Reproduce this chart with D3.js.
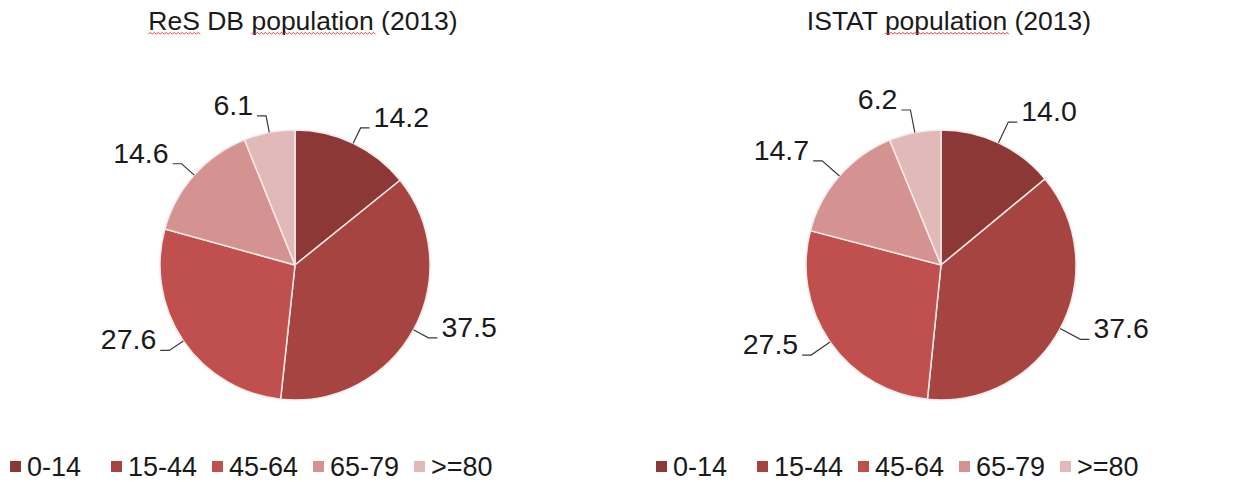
<!DOCTYPE html>
<html>
<head>
<meta charset="utf-8">
<script src="https://cdn.jsdelivr.net/npm/d3@7"></script>
<style>
  html, body { margin: 0; padding: 0; background: #fff; }
  svg { display: block; font-family: "Liberation Sans", Arial, sans-serif; }
</style>
</head>
<body>
<div id="chart"></div>
<script>
// age groups and shares (%)
const categories = ["0-14", "15-44", "45-64", "65-79", ">=80"];
const resValues = [14.2, 37.5, 27.6, 14.6, 6.1];
const istatValues = [14.0, 37.6, 27.5, 14.7, 6.2];
const titles = ["ReS DB population (2013)", "ISTAT population (2013)"];
// words that carry the red spell-check squiggle
const flagged = [["ReS", "population"], ["population"]];

const colors = ["#8b3837", "#a64442", "#c0504d", "#d49391", "#e1b9b8"];

const width = 1247, height = 482;
const radius = 135;
const centers = [[295, 265], [941, 265]];
const leaderGap = [17, 23];

const svg = d3.select("#chart")
  .append("svg")
  .attr("width", width)
  .attr("height", height);

const color = d3.scaleOrdinal().domain(categories).range(colors);
const fmt = d3.format(".1f");

const pie = d3.pie().sort(null).value(d => d.value);
const arc = d3.arc().innerRadius(0).outerRadius(radius);

function drawPie(values, idx) {
  const [cx, cy] = centers[idx];
  const data = categories.map((c, i) => ({ cat: c, value: values[i] }));
  const g = svg.append("g").attr("transform", "translate(" + cx + "," + cy + ")");

  g.selectAll("path.slice")
    .data(pie(data))
    .enter()
    .append("path")
    .attr("class", "slice")
    .attr("d", arc)
    .attr("fill", d => color(d.data.cat))
    .attr("stroke", "#f7e9e9")
    .attr("stroke-width", 1.5);

  // labels with elbow leader lines, excel style
  const gap = leaderGap[idx], stub = 9;
  const labels = g.selectAll("g.lab")
    .data(pie(data))
    .enter()
    .append("g")
    .attr("class", "lab");

  labels.each(function (d) {
    const a = (d.startAngle + d.endAngle) / 2;
    const ux = Math.sin(a), uy = -Math.cos(a);
    const side = ux >= 0 ? 1 : -1;
    const p0 = [ux * radius, uy * radius];
    const p1 = [ux * (radius + gap), uy * (radius + gap)];
    const p2 = [p1[0] + side * stub, p1[1]];
    d3.select(this).append("path")
      .attr("d", "M" + p0 + "L" + p1 + "L" + p2)
      .attr("fill", "none")
      .attr("stroke", "#3a3a3a")
      .attr("stroke-width", 1.2);
    d3.select(this).append("text")
      .attr("x", p2[0] + side * 4)
      .attr("y", p2[1] - 1)
      .attr("text-anchor", side > 0 ? "start" : "end")
      .attr("font-size", 28.5)
      .attr("fill", "#1a1a1a")
      .text(fmt(d.data.value));
  });

  // title
  const title = svg.append("text")
    .attr("x", cx + 8)
    .attr("y", 30)
    .attr("text-anchor", "middle")
    .attr("font-size", 26.5)
    .attr("fill", "#1a1a1a")
    .text(titles[idx]);

  const node = title.node();
  flagged[idx].forEach(w => {
    const k = titles[idx].indexOf(w);
    const x0 = node.getStartPositionOfChar(k).x;
    const len = node.getSubStringLength(k, w.length);
    const yb = 34;
    let dstr = "M" + x0 + "," + yb;
    for (let x = x0, up = true; x < x0 + len; x += 2, up = !up) {
      dstr += "L" + (x + 2) + "," + (up ? yb - 1.5 : yb);
    }
    svg.append("path")
      .attr("d", dstr)
      .attr("fill", "none")
      .attr("stroke", "#e03030")
      .attr("stroke-width", 0.9);
  });

  // legend
  const step = 101;
  const lx = cx - 285;
  const leg = svg.append("g").attr("transform", "translate(" + lx + ",466)");
  const items = leg.selectAll("g")
    .data(categories)
    .enter()
    .append("g")
    .attr("transform", (d, i) => "translate(" + i * step + ",0)");
  items.append("rect")
    .attr("x", 0).attr("y", -5)
    .attr("width", 11).attr("height", 11)
    .attr("fill", d => color(d));
  items.append("text")
    .attr("x", 17)
    .attr("y", 10)
    .attr("font-size", 27)
    .attr("fill", "#1a1a1a")
    .text(d => d);
}

drawPie(resValues, 0);
drawPie(istatValues, 1);
</script>
</body>
</html>
